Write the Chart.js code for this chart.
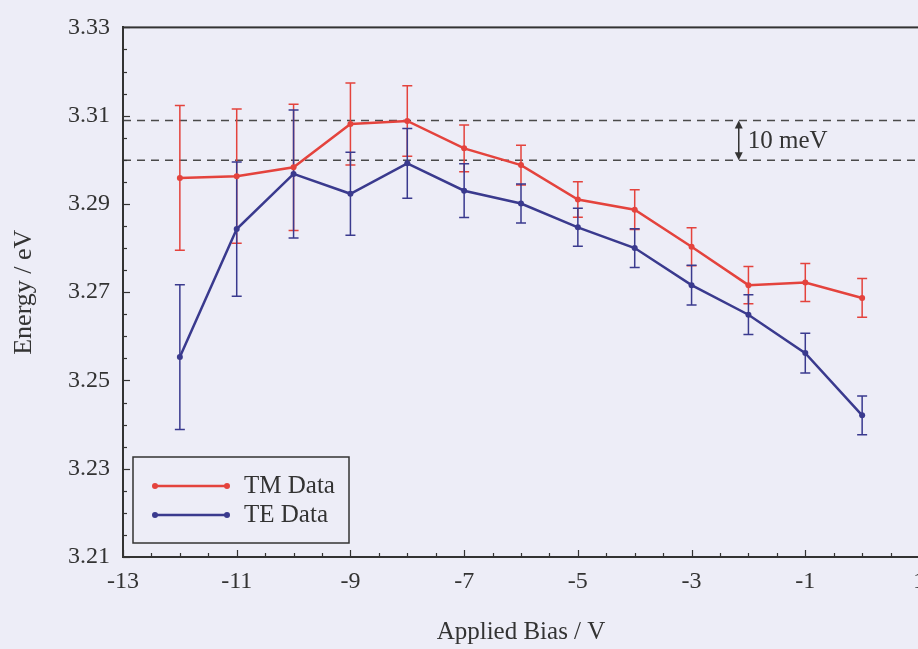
<!DOCTYPE html>
<html>
<head>
<meta charset="utf-8">
<title>Energy vs Applied Bias</title>
<script src="https://cdn.jsdelivr.net/npm/chart.js@4.4.1/dist/chart.umd.min.js"></script>
<style>
html, body { margin: 0; padding: 0; background: #ededf7; overflow: hidden; }
#plot { display: block; }
</style>
</head>
<body>
<canvas id="plot" width="940" height="649"></canvas>
<script>
// applied bias (V)
var biasValues = [-12, -11, -10, -9, -8, -7, -6, -5, -4, -3, -2, -1, 0];

// TM data, energy (eV) and error
var tmEnergy = [3.2959, 3.2963, 3.2983, 3.3081, 3.3088, 3.3026, 3.2988, 3.2910, 3.2887, 3.2803, 3.2716, 3.2722, 3.2687];
var tmError  = [0.0164, 0.0152, 0.0143, 0.0093, 0.0080, 0.0053, 0.0045, 0.0040, 0.0045, 0.0043, 0.0042, 0.0043, 0.0044];

// TE data
var teEnergy = [3.2553, 3.2843, 3.2968, 3.2923, 3.2992, 3.2930, 3.2901, 3.2847, 3.2800, 3.2716, 3.2649, 3.2562, 3.2421];
var teError  = [0.0164, 0.0152, 0.0145, 0.0094, 0.0079, 0.0061, 0.0044, 0.0043, 0.0044, 0.0045, 0.0045, 0.0045, 0.0044];

var xTickValues = [-13, -11, -9, -7, -5, -3, -1, 1];
var yTickValues = [3.21, 3.23, 3.25, 3.27, 3.29, 3.31, 3.33];

// dashed reference lines and the 10 meV marker
var refLines = [3.3089, 3.2999];
var refLabel = '10 meV';
var refBias = -2.17;

var serif = '"Liberation Serif", "Times New Roman", serif';
var ink = '#333333';
var tmColor = '#e4433d';
var teColor = '#3a3a8e';

function toPoints(xs, ys) {
    return xs.map(function (x, i) { return {x: x, y: ys[i]}; });
}

var plotPlugin = {
    id: 'plotExtras',
    beforeDatasetsDraw: function (chart) {
        var ctx = chart.ctx;
        var area = chart.chartArea;
        var xs = chart.scales.x;
        var ys = chart.scales.y;
        ctx.save();

        // dashed lines
        ctx.strokeStyle = '#4a4a4a';
        ctx.lineWidth = 1.6;
        ctx.setLineDash([8, 6]);
        refLines.forEach(function (v) {
            var py = ys.getPixelForValue(v);
            ctx.beginPath();
            ctx.moveTo(area.left, py);
            ctx.lineTo(area.right, py);
            ctx.stroke();
        });
        ctx.setLineDash([]);

        // error bars
        chart.data.datasets.forEach(function (ds) {
            ctx.strokeStyle = ds.borderColor;
            ctx.lineWidth = 1.5;
            ds.data.forEach(function (p, i) {
                var e = ds.errors[i];
                var px = xs.getPixelForValue(p.x);
                var top = ys.getPixelForValue(p.y + e);
                var bot = ys.getPixelForValue(p.y - e);
                ctx.beginPath();
                ctx.moveTo(px, top);
                ctx.lineTo(px, bot);
                ctx.moveTo(px - 5, top);
                ctx.lineTo(px + 5, top);
                ctx.moveTo(px - 5, bot);
                ctx.lineTo(px + 5, bot);
                ctx.stroke();
            });
        });

        ctx.restore();
    },
    afterDraw: function (chart) {
        var ctx = chart.ctx;
        var area = chart.chartArea;
        var xs = chart.scales.x;
        var ys = chart.scales.y;
        ctx.save();

        // frame
        ctx.strokeStyle = ink;
        ctx.lineWidth = 2;
        ctx.strokeRect(area.left, area.top, area.right - area.left, area.bottom - area.top);

        // inward ticks
        ctx.lineWidth = 1.2;
        var v, py, px, len;
        for (v = 3.21; v <= 3.3301; v += 0.005) {
            py = Math.round(ys.getPixelForValue(v)) + 0.5;
            len = Math.abs((v - 3.21) / 0.02 - Math.round((v - 3.21) / 0.02)) < 0.01 ? 7 : 4;
            ctx.beginPath();
            ctx.moveTo(area.left, py);
            ctx.lineTo(area.left + len, py);
            ctx.stroke();
        }
        for (v = -13; v <= 1.001; v += 0.5) {
            px = Math.round(xs.getPixelForValue(v)) + 0.5;
            len = Math.abs((v + 13) / 2 - Math.round((v + 13) / 2)) < 0.01 ? 7 : 4;
            ctx.beginPath();
            ctx.moveTo(px, area.bottom);
            ctx.lineTo(px, area.bottom - len);
            ctx.stroke();
        }

        // 10 meV arrow
        var ax = xs.getPixelForValue(refBias);
        var y1 = ys.getPixelForValue(refLines[0]);
        var y2 = ys.getPixelForValue(refLines[1]);
        ctx.strokeStyle = ink;
        ctx.fillStyle = ink;
        ctx.lineWidth = 1.5;
        ctx.beginPath();
        ctx.moveTo(ax, y1 + 6);
        ctx.lineTo(ax, y2 - 6);
        ctx.stroke();
        ctx.beginPath();
        ctx.moveTo(ax, y1);
        ctx.lineTo(ax - 4, y1 + 8);
        ctx.lineTo(ax + 4, y1 + 8);
        ctx.closePath();
        ctx.fill();
        ctx.beginPath();
        ctx.moveTo(ax, y2);
        ctx.lineTo(ax - 4, y2 - 8);
        ctx.lineTo(ax + 4, y2 - 8);
        ctx.closePath();
        ctx.fill();
        ctx.font = '25px ' + serif;
        ctx.textBaseline = 'middle';
        ctx.textAlign = 'left';
        ctx.fillText(refLabel, ax + 9, (y1 + y2) / 2 + 1);

        // legend box
        var bx = area.left + 10;
        var bw = 216, bh = 86;
        var by = area.bottom - 14 - bh;
        ctx.fillStyle = '#ededf7';
        ctx.fillRect(bx, by, bw, bh);
        ctx.strokeStyle = ink;
        ctx.lineWidth = 1.5;
        ctx.strokeRect(bx, by, bw, bh);
        chart.data.datasets.forEach(function (ds, i) {
            var ly = by + 29 + i * 29;
            ctx.strokeStyle = ds.borderColor;
            ctx.fillStyle = ds.borderColor;
            ctx.lineWidth = 2.5;
            ctx.beginPath();
            ctx.moveTo(bx + 22, ly);
            ctx.lineTo(bx + 94, ly);
            ctx.stroke();
            [bx + 22, bx + 94].forEach(function (cx) {
                ctx.beginPath();
                ctx.arc(cx, ly, 3, 0, Math.PI * 2);
                ctx.fill();
            });
            ctx.fillStyle = ink;
            ctx.font = '25px ' + serif;
            ctx.textBaseline = 'middle';
            ctx.fillText(ds.label, bx + 111, ly);
        });

        ctx.restore();
    }
};

new Chart(document.getElementById('plot'), {
    type: 'line',
    data: {
        datasets: [{
            label: 'TM Data',
            data: toPoints(biasValues, tmEnergy),
            errors: tmError,
            borderColor: tmColor,
            backgroundColor: tmColor,
            borderWidth: 2.5,
            pointRadius: 3,
            pointBorderWidth: 0,
            tension: 0
        }, {
            label: 'TE Data',
            data: toPoints(biasValues, teEnergy),
            errors: teError,
            borderColor: teColor,
            backgroundColor: teColor,
            borderWidth: 2.5,
            pointRadius: 3,
            pointBorderWidth: 0,
            tension: 0
        }]
    },
    options: {
        responsive: false,
        animation: false,
        devicePixelRatio: 1,
        layout: { padding: { top: 17, right: 21, left: 0, bottom: 0 } },
        plugins: { legend: { display: false }, tooltip: { enabled: false } },
        scales: {
            x: {
                type: 'linear',
                min: -13,
                max: 1,
                afterBuildTicks: function (s) {
                    s.ticks = xTickValues.map(function (v) { return {value: v}; });
                },
                afterFit: function (s) { s.height = 92; },
                grid: { display: false, drawTicks: false },
                border: { display: true, color: ink, width: 2 },
                ticks: {
                    autoSkip: false,
                    maxRotation: 0,
                    padding: 10,
                    color: ink,
                    font: { family: serif, size: 24 },
                    callback: function (v) { return String(v); }
                },
                title: {
                    display: true,
                    text: 'Applied Bias / V',
                    color: ink,
                    font: { family: serif, size: 25 },
                    padding: { top: 0, bottom: 2 }
                }
            },
            y: {
                min: 3.21,
                max: 3.33,
                afterBuildTicks: function (s) {
                    s.ticks = yTickValues.map(function (v) { return {value: v}; });
                },
                afterFit: function (s) { s.width = 123; },
                grid: { display: false, drawTicks: false },
                border: { display: true, color: ink, width: 2 },
                ticks: {
                    padding: 13,
                    color: ink,
                    font: { family: serif, size: 24 },
                    callback: function (v) { return v.toFixed(2); }
                },
                title: {
                    display: true,
                    text: 'Energy / eV',
                    color: ink,
                    font: { family: serif, size: 26 },
                    padding: { top: 9, bottom: 0 }
                }
            }
        }
    },
    plugins: [plotPlugin]
});
</script>
</body>
</html>
